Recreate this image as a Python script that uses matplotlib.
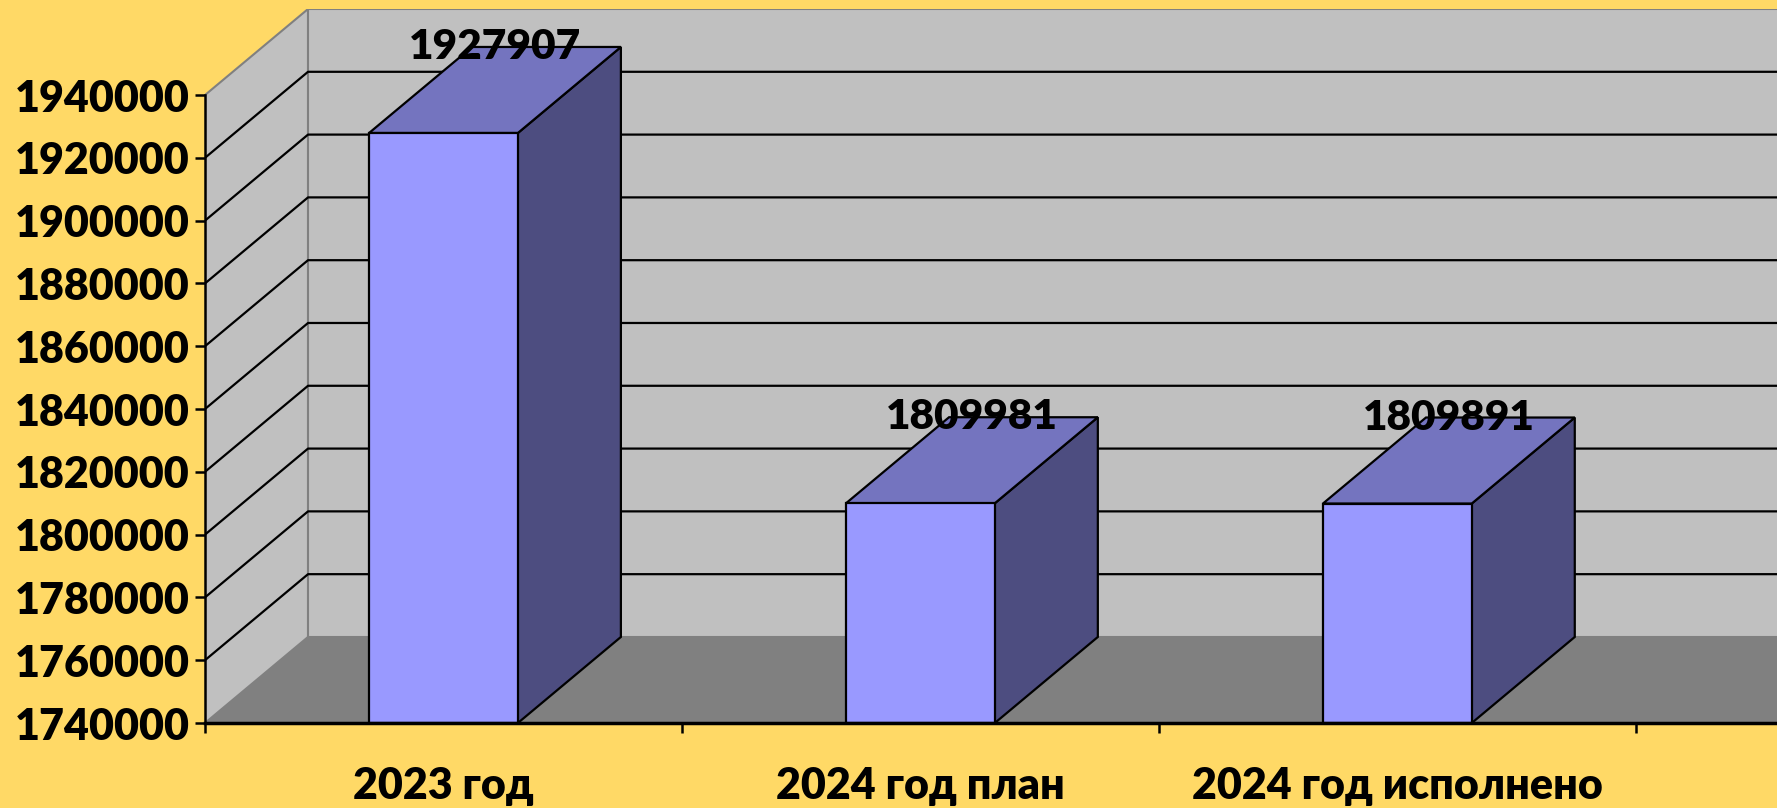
import matplotlib
matplotlib.use("Agg")
import matplotlib.pyplot as plt
from matplotlib.patches import Polygon, Rectangle

# data
categories = ["2023 год", "2024 год план", "2024 год исполнено"]
values = [1927907, 1809981, 1809891]
y_ticks = list(range(1740000, 1940001, 20000))

plt.rcParams['font.family'] = ['Lato', 'DejaVu Sans']
plt.rcParams['font.weight'] = 'heavy'

bg = '#ffd966'
wall = '#c0c0c0'
floor_c = '#808080'
front_c = '#9999ff'
top_c = '#7474bf'
side_c = '#4d4d80'

ymin, ymax = y_ticks[0], y_ticks[-1]
DX = 0.216     # depth in category units
DY = 27400     # depth in value units
bw = 0.312     # bar width
xmin, xmax = -0.5, 2.796
fw = 'heavy'

fig = plt.figure(figsize=(17.77, 8.08), dpi=100, facecolor=bg)
ax = fig.add_axes([205 / 1777, 85 / 808, 1572 / 1777, 714 / 808])
ax.set_facecolor('none')
ax.set_xlim(xmin, xmax)
ax.set_ylim(ymin, ymax + DY)

# floor, side wall, back wall
ax.add_patch(Polygon([(xmin, ymin), (xmin + DX, ymin + DY), (xmax, ymin + DY), (xmax, ymin)],
                     closed=True, fc=floor_c, ec='none', zorder=1))
ax.add_patch(Polygon([(xmin, ymin), (xmin, ymax), (xmin + DX, ymax + DY), (xmin + DX, ymin + DY)],
                     closed=True, fc=wall, ec=floor_c, lw=1.5, zorder=1))
ax.add_patch(Rectangle((xmin + DX, ymin + DY), xmax - xmin - DX + 0.1, ymax - ymin,
                       fc=wall, ec=floor_c, lw=1.5, zorder=1))

# gridlines on side and back wall
for v in y_ticks[1:-1]:
    ax.plot([xmin, xmin + DX, xmax], [v, v + DY, v + DY], color='black', lw=1.6, zorder=2)

# bars
for i, v in enumerate(values):
    l, r = i - bw / 2, i + bw / 2
    ax.add_patch(Polygon([(r, ymin), (r, v), (r + DX, v + DY), (r + DX, ymin + DY)],
                         closed=True, fc=side_c, ec='black', lw=1.6, zorder=3))
    ax.add_patch(Polygon([(l, v), (l + DX, v + DY), (r + DX, v + DY), (r, v)],
                         closed=True, fc=top_c, ec='black', lw=1.6, zorder=3))
    ax.add_patch(Rectangle((l, ymin), bw, v - ymin, fc=front_c, ec='black', lw=1.6, zorder=4))
    ax.text(i + DX / 2, v + DY, str(v), ha='center', va='center',
            fontsize=30.5, fontweight=fw, zorder=5)

for s in ['top', 'right']:
    ax.spines[s].set_visible(False)
ax.spines['left'].set_bounds(ymin, ymax)
ax.spines['left'].set_linewidth(1.8)
ax.spines['bottom'].set_linewidth(2.5)
ax.spines['left'].set_zorder(6)
ax.spines['bottom'].set_zorder(6)

ax.set_yticks(y_ticks)
ax.set_yticklabels([str(t) for t in y_ticks], fontsize=31, fontweight=fw)
ax.tick_params(axis='y', length=7, width=1.8, pad=4)

ax.set_xticks([xmin + k for k in range(4)])
ax.set_xticklabels([])
ax.tick_params(axis='x', which='major', length=7, width=1.8)
ax.set_xticks(range(len(categories)), minor=True)
ax.set_xticklabels(categories, minor=True, fontsize=31, fontweight=fw)
ax.tick_params(axis='x', which='minor', length=0, pad=31)

fig.savefig('out.png', dpi=100, facecolor=bg)
